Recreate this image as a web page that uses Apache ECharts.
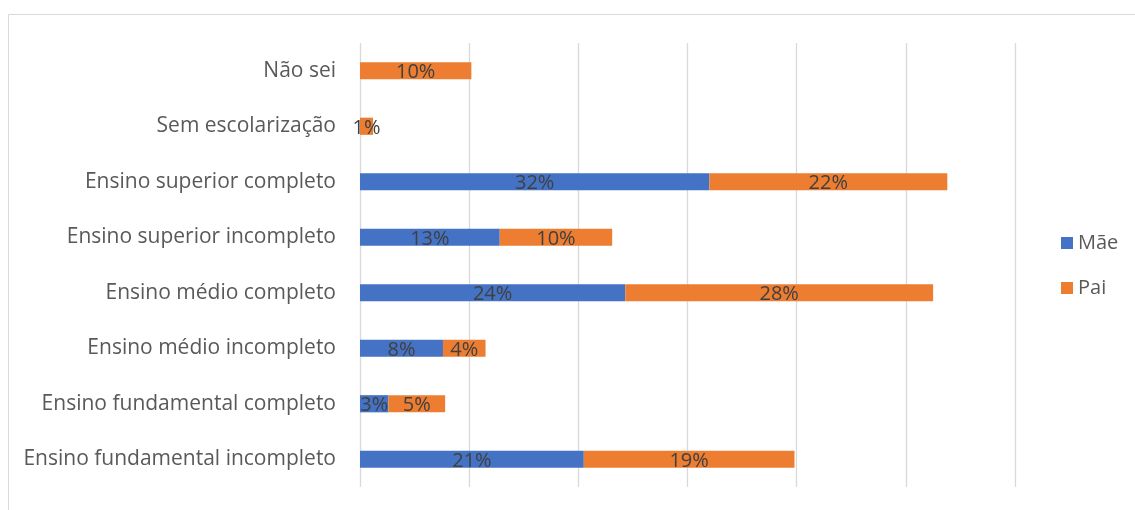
<!DOCTYPE html>
<html>
<head>
<meta charset="utf-8">
<script src="https://cdn.jsdelivr.net/npm/echarts@6/dist/echarts.min.js"></script>
<style>
html,body{margin:0;padding:0;background:#fff;}
#chart{width:1135px;height:510px;}
</style>
</head>
<body>
<div id="chart"></div>
<script>
const categories = [
  "Ensino fundamental incompleto",
  "Ensino fundamental completo",
  "Ensino médio incompleto",
  "Ensino médio completo",
  "Ensino superior incompleto",
  "Ensino superior completo",
  "Sem escolarização",
  "Não sei"
];
const seriesNames = ["Mãe", "Pai"];
const maeValues = [20.5, 2.6, 7.6, 24.3, 12.8, 32.0, null, null];
const paiValues = [19.3, 5.2, 3.9, 28.2, 10.3, 21.8, 1.2, 10.2];
const colors = ["#4472C4", "#ED7D31"];

const FONT = "Open Sans";
const chart = echarts.init(document.getElementById('chart'), null, {renderer: 'canvas'});
const labelCfg = {
  show: true,
  position: 'inside',
  color: '#404040',
  fontFamily: FONT,
  fontSize: 20,
  offset: [0, 2],
  formatter: p => (p.value == null ? '' : Math.round(p.value) + '%')
};
chart.setOption({
  animation: false,
  backgroundColor: '#fff',
  graphic: [{
    type: 'rect',
    shape: {x: 8.5, y: 14.5, width: 1200, height: 600},
    style: {fill: 'none', stroke: '#d9d9d9', lineWidth: 1},
    silent: true
  }],
  grid: {left: 360, right: 120, top: 43, bottom: 23},
  legend: {
    orient: 'vertical',
    left: 1056,
    top: 228,
    itemWidth: 12,
    itemHeight: 12,
    itemGap: 25,
    icon: 'rect',
    textStyle: {color: '#595959', fontFamily: FONT, fontSize: 20},
    data: seriesNames
  },
  xAxis: {
    type: 'value',
    min: 0,
    max: 60,
    interval: 10,
    axisLabel: {show: false},
    axisLine: {show: false},
    axisTick: {show: false},
    splitLine: {show: true, lineStyle: {color: '#d9d9d9', width: 1.3}}
  },
  yAxis: {
    type: 'category',
    data: categories,
    axisLine: {show: false},
    axisTick: {show: false},
    axisLabel: {color: '#595959', fontFamily: FONT, fontSize: 21, margin: 24, padding: [3, 0, 0, 0]}
  },
  series: [
    {name: seriesNames[0], type: 'bar', stack: 'total', data: maeValues, barWidth: '31%',
     itemStyle: {color: colors[0]}, label: labelCfg},
    {name: seriesNames[1], type: 'bar', stack: 'total', data: paiValues, barWidth: '31%',
     itemStyle: {color: colors[1]}, label: labelCfg}
  ]
});
</script>
</body>
</html>
